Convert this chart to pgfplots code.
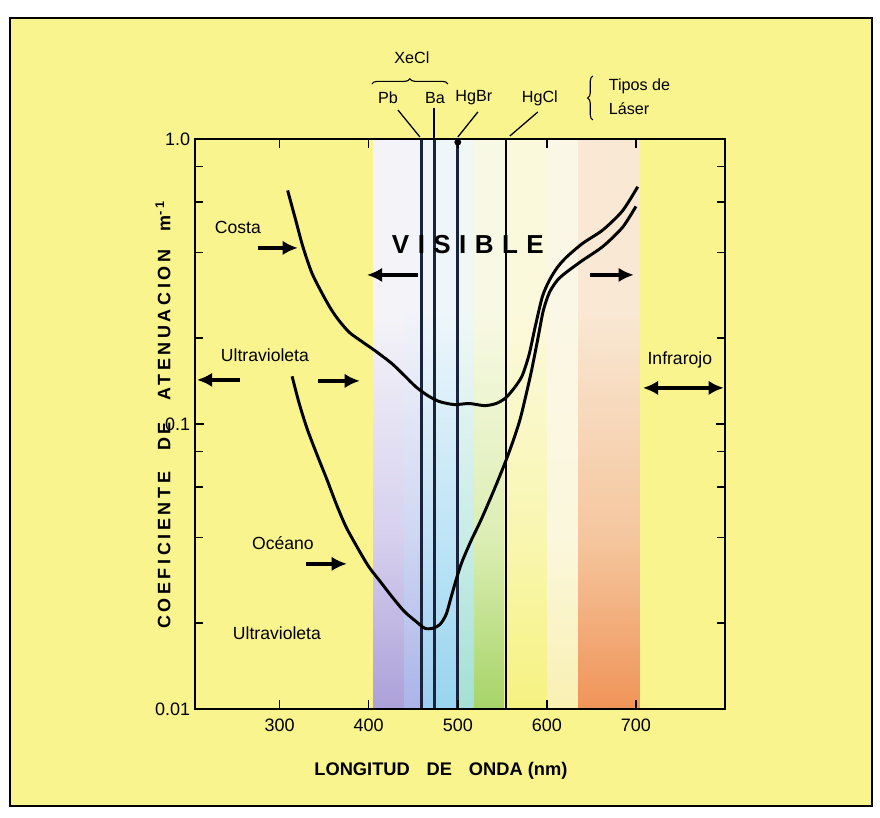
\documentclass[border=0pt]{standalone}
\usepackage{fontspec}
\setmainfont{Liberation Sans}
\usepackage{pgfplots}
\pgfplotsset{compat=1.18}
\usetikzlibrary{arrows.meta,decorations.pathreplacing}

\definecolor{bgyellow}{RGB}{250,244,142}
\definecolor{navy}{RGB}{25,35,60}
% spectrum colours: bottom / middle / top
\definecolor{s1t}{RGB}{244,244,248}\definecolor{s1m}{RGB}{214,208,238}\definecolor{s1b}{RGB}{172,160,216}
\definecolor{s2t}{RGB}{242,244,250}\definecolor{s2m}{RGB}{206,214,242}\definecolor{s2b}{RGB}{170,180,232}
\definecolor{s3t}{RGB}{238,245,250}\definecolor{s3m}{RGB}{194,224,246}\definecolor{s3b}{RGB}{158,206,240}
\definecolor{s4t}{RGB}{238,246,250}\definecolor{s4m}{RGB}{190,228,246}\definecolor{s4b}{RGB}{152,212,240}
\definecolor{s5t}{RGB}{240,248,246}\definecolor{s5m}{RGB}{200,236,232}\definecolor{s5b}{RGB}{164,224,212}
\definecolor{s6t}{RGB}{248,249,228}\definecolor{s6m}{RGB}{220,238,180}\definecolor{s6b}{RGB}{166,212,104}
\definecolor{s7t}{RGB}{251,249,220}\definecolor{s7m}{RGB}{249,246,176}\definecolor{s7b}{RGB}{246,242,128}
\definecolor{s8t}{RGB}{251,247,230}\definecolor{s8m}{RGB}{251,247,220}\definecolor{s8b}{RGB}{249,240,178}
\definecolor{s9t}{RGB}{249,232,212}\definecolor{s9m}{RGB}{245,198,158}\definecolor{s9b}{RGB}{240,148,88}
\newcommand\bandshade[1]{\pgfdeclareverticalshading{band#1}{100bp}{%
  color(0bp)=(s#1b); color(25bp)=(s#1b); color(40bp)=(s#1m); color(60bp)=(s#1t); color(100bp)=(s#1t)}}
\bandshade{1}\bandshade{2}\bandshade{3}\bandshade{4}\bandshade{5}
\bandshade{6}\bandshade{7}\bandshade{8}\bandshade{9}

\tikzset{
  bigarrow/.style={line width=3.2pt,-{Latex[length=0.38cm,width=0.36cm]}},
  lab/.style={font=\fontsize{12.5}{14}\selectfont},
  toplab/.style={font=\fontsize{11.5}{13}\selectfont},
}

\begin{document}
\begin{tikzpicture}
\useasboundingbox (0,0) rectangle (22cm,20.425cm);
\fill[white] (0,0) rectangle (22cm,20.425cm);
\begin{scope}[shift={(0,20.425cm)},x=0.025cm,y=-0.025cm]
  \fill[bgyellow] (10,18) rectangle (872,806);
  \draw[line width=1.8pt] (10,18) rectangle (872,806);
\end{scope}

\begin{axis}[
  at={(4.875cm,2.7cm)}, anchor=south west,
  scale only axis, width=13.25cm, height=14.25cm,
  xmin=205, xmax=800, ymode=log, ymin=0.01, ymax=1,
  xtick={300,400,500,600,700}, xticklabels={300,400,500,600,700},
  ytick={0.01,0.1,1}, yticklabels={0.01,0.1,1.0},
  minor ytick={0.02,0.04,0.06,0.08,0.2,0.4,0.6,0.8},
  tick align=inside, major tick length=0.22cm, minor tick length=0.2cm,
  tick style={line width=1.1pt, black},
  axis line style={line width=1.6pt},
  xticklabel style={font=\fontsize{12.8}{14}\selectfont, yshift=-0.12cm},
  yticklabel style={font=\fontsize{12.8}{14}\selectfont},
  axis on top,
]
% visible spectrum bands
\addplot[draw=none, shading=band1] coordinates {(405,0.01) (405,1) (441,1) (441,0.01)} -- cycle;
\addplot[draw=none, shading=band2] coordinates {(440,0.01) (440,1) (460,1) (460,0.01)} -- cycle;
\addplot[draw=none, shading=band3] coordinates {(459,0.01) (459,1) (475,1) (475,0.01)} -- cycle;
\addplot[draw=none, shading=band4] coordinates {(474,0.01) (474,1) (501,1) (501,0.01)} -- cycle;
\addplot[draw=none, shading=band5] coordinates {(500,0.01) (500,1) (519,1) (519,0.01)} -- cycle;
\addplot[draw=none, shading=band6] coordinates {(518,0.01) (518,1) (553,1) (553,0.01)} -- cycle;
\addplot[draw=none, shading=band7] coordinates {(552,0.01) (552,1) (601,1) (601,0.01)} -- cycle;
\addplot[draw=none, shading=band8] coordinates {(600,0.01) (600,1) (636,1) (636,0.01)} -- cycle;
\addplot[draw=none, shading=band9] coordinates {(635,0.01) (635,1) (704,1) (704,0.01)} -- cycle;

% laser lines
\addplot[navy, line width=1.9pt] coordinates {(459,0.01) (459,1)};
\addplot[navy, line width=1.9pt] coordinates {(474,0.01) (474,1)};
\addplot[navy, line width=2.4pt] coordinates {(500,0.01) (500,1)};
\addplot[black, line width=1.9pt] coordinates {(554,0.01) (554,1)};
\addplot[only marks, mark=*, mark size=2.2pt, black] coordinates {(500,0.975)};

% Costa
\addplot[black, line width=2.1pt, smooth, tension=0.45] coordinates {
(309,0.66) (318,0.52) (326,0.42) (336,0.34) (347,0.29) (357,0.255) (366,0.232)
(378,0.21) (391,0.196) (408,0.18) (426,0.163) (440,0.148) (453,0.135) (466,0.126)
(479,0.120) (496,0.117) (513,0.118) (530,0.116) (543,0.118) (553,0.123) (562,0.132)
(572,0.147) (580,0.175) (587,0.22) (595,0.28) (603,0.32) (612,0.355) (622,0.385)
(640,0.43) (663,0.48) (685,0.56) (702,0.68)};
% Oceano
\addplot[black, line width=2.1pt, smooth, tension=0.45] coordinates {
(314,0.147) (322,0.118) (331,0.096) (342,0.078) (353,0.064) (364,0.052) (374.5,0.0436)
(387,0.037) (400,0.0316) (413,0.028) (426,0.0248) (440,0.0220) (453,0.0203) (463,0.0192)
(472,0.0192) (480,0.0198) (487,0.0215) (493,0.025) (499,0.029) (505,0.033) (515,0.039)
(526,0.046) (540,0.058) (553,0.073) (562,0.087) (570,0.104) (577,0.128) (583,0.155)
(590,0.2) (596,0.25) (603,0.29) (612,0.32) (622,0.341) (640,0.375) (663,0.42)
(685,0.49) (700,0.58)};
\end{axis}

\begin{scope}[shift={(0,20.425cm)},x=0.025cm,y=-0.025cm]
  % arrows
  \draw[bigarrow] (258,248) -- (298,248);
  \draw[bigarrow] (418,275) -- (367,275);
  \draw[bigarrow] (590,275) -- (634,275);
  \draw[bigarrow] (240,380) -- (197,380);
  \draw[bigarrow] (318,381) -- (360,381);
  \draw[bigarrow] (685,388) -- (643,388);
  \draw[bigarrow] (681,388) -- (724,388);
  \draw[bigarrow] (306,564) -- (347,564);
  % region labels
  \node[lab] at (238,228) {Costa};
  \node[font=\bfseries\fontsize{18.5}{20}\selectfont] at (468,245)
     {V\hspace{6pt}I\hspace{6pt}S\hspace{6pt}I\hspace{6pt}B\hspace{6pt}L\hspace{6pt}E};
  \node[lab] at (265,355) {Ultravioleta};
  \node[lab] at (680,360) {Infrarojo};
  \node[lab] at (283,543) {Océano};
  \node[lab] at (277,633) {Ultravioleta};
  % laser labels
  \node[toplab] at (412,58) {XeCl};
  \node[toplab] at (388,98) {Pb};
  \node[toplab] at (435,98) {Ba};
  \node[toplab] at (474,98) {HgBr};
  \node[toplab] at (540,98) {HgCl};
  \node[toplab, anchor=west] at (604,86) {Tipos de};
  \node[toplab, anchor=west] at (604,109) {Láser};
  \draw[line width=0.8pt, decorate, decoration={brace, amplitude=0.13cm}] (372,84) -- (448,84);
  \draw[line width=0.8pt, decorate, decoration={brace, amplitude=0.13cm}] (593,120) -- (593,76);
  \draw[line width=0.9pt] (398,110) -- (420,137);
  \draw[line width=0.9pt] (434,108) -- (434,138);
  \draw[line width=0.9pt] (478,112) -- (458,137);
  \draw[line width=0.9pt] (538,112) -- (510,136);
  % axis titles
  \node[font=\bfseries\fontsize{13}{15}\selectfont] at (441,771)
     {LONGITUD\hspace{12pt}DE\hspace{12pt}ONDA (nm)};
  \node[font=\bfseries\fontsize{12.8}{14}\selectfont, rotate=90] at (163,415)
     {\addfontfeatures{LetterSpace=20}COEFICIENTE\hspace{9pt} DE\hspace{9pt} ATENUACION\hspace{7pt} m\textsuperscript{-1}};
\end{scope}
\end{tikzpicture}
\end{document}
